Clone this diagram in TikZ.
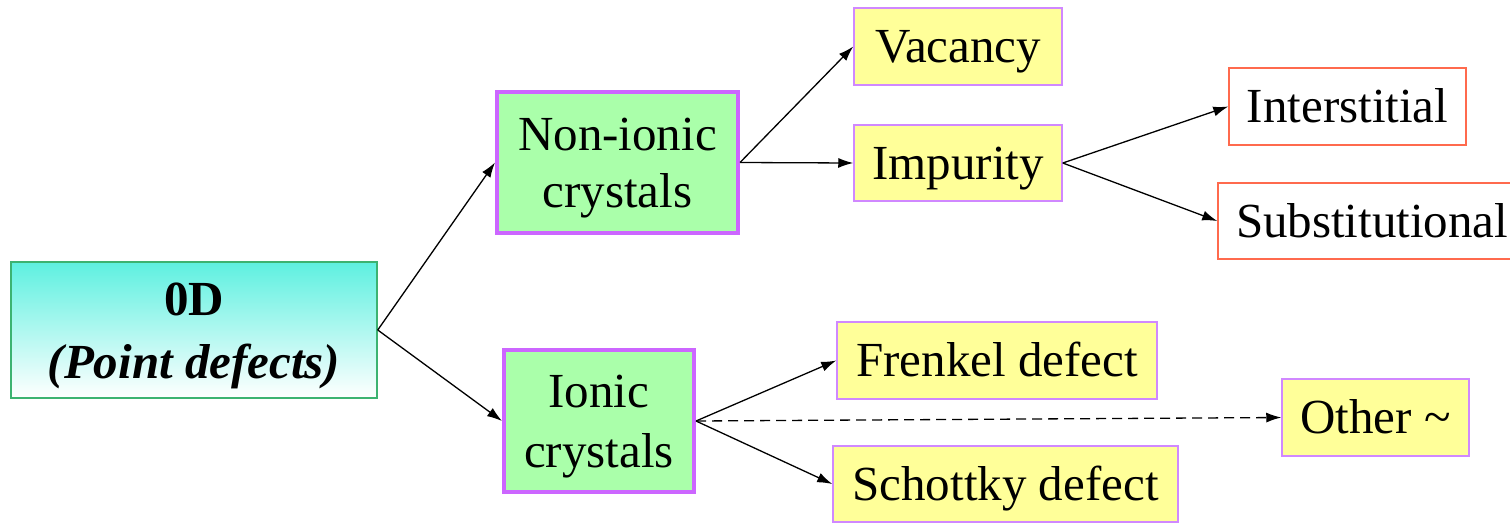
\documentclass[tikz,border=0pt]{standalone}
\usepackage{fontspec}
\setmainfont{Liberation Serif}
\newfontfamily\timesfamily{Liberation Serif}
\usetikzlibrary{arrows.meta}
\definecolor{rootborder}{HTML}{3CB371}
\definecolor{roottop}{HTML}{5EF0E0}
\definecolor{greenfill}{HTML}{AAFFAA}
\definecolor{violetborder}{HTML}{CC66FF}
\definecolor{yellowfill}{HTML}{FFFF99}
\definecolor{lilacborder}{HTML}{D088FF}
\definecolor{orangeborder}{HTML}{FF6A4D}
\tikzset{
  base/.style={rectangle, inner sep=0pt, align=center,
    text height=32.5pt, text depth=0pt,
    font=\timesfamily\fontsize{49}{59}\selectfont},
  rootbox/.style={base, draw=rootborder, line width=1.5pt,
    top color=roottop, bottom color=white},
  classbox/.style={base, draw=violetborder, line width=4pt, fill=greenfill},
  kindbox/.style={base, draw=lilacborder, line width=1.5pt, fill=yellowfill},
  subbox/.style={base, draw=orangeborder, line width=1.5pt, fill=white},
  link/.style={-{Latex[length=15pt,width=10pt]}, line width=1.3pt},
  dashlink/.style={link, dash pattern=on 10pt off 6pt}
}
\begin{document}
\begin{tikzpicture}[x=1pt,y=-1pt]
\useasboundingbox (0,0) rectangle (1510,523);

% root
\node[rootbox, minimum width=366pt, minimum height=136pt, text height=96pt,
  font=\timesfamily\fontsize{49}{63}\selectfont\bfseries] (root) at (194,330)
  {0D\\\textit{(Point defects)}};

% crystal classes
\node[classbox, minimum width=241pt, minimum height=141pt, text height=89pt,
  font=\timesfamily\fontsize{49}{57}\selectfont] (nonionic) at (617.5,162.5)
  {Non-ionic\\crystals};
\node[classbox, minimum width=190pt, minimum height=142pt, text height=92pt,
  font=\timesfamily\fontsize{49}{60}\selectfont] (ionic) at (599,421)
  {Ionic\\crystals};

% defect kinds
\node[kindbox, minimum width=208pt, minimum height=77pt] (vacancy) at (958,46.5) {Vacancy};
\node[kindbox, minimum width=208pt, minimum height=76pt] (impurity) at (958,163) {Impurity};
\node[kindbox, minimum width=320pt, minimum height=77pt] (frenkel) at (997,360.5) {Frenkel defect};
\node[kindbox, minimum width=187pt, minimum height=77pt] (other) at (1375.5,417.5) {Other \textasciitilde};
\node[kindbox, minimum width=345pt, minimum height=76pt] (schottky) at (1005.5,484) {Schottky defect};

% impurity sub-kinds
\node[subbox, minimum width=237pt, minimum height=77pt] (interstitial) at (1347.5,106.5) {Interstitial};
\node[subbox, minimum width=300pt, minimum height=76pt, text width=300pt, align=left] (substitutional) at (1368,221)
  {\hspace{18pt}Substitutional};

% connectors
\draw[link] (root.east) -- (nonionic.west);
\draw[link] (root.east) -- (ionic.west);
\draw[link] (nonionic.east) -- (vacancy.west);
\draw[link] (nonionic.east) -- (impurity.west);
\draw[link] (impurity.east) -- (interstitial.west);
\draw[link] (impurity.east) -- (substitutional.west);
\draw[link] (ionic.east) -- (frenkel.west);
\draw[link] (ionic.east) -- (schottky.west);
\draw[dashlink] (ionic.east) -- (other.west);
\end{tikzpicture}
\end{document}
